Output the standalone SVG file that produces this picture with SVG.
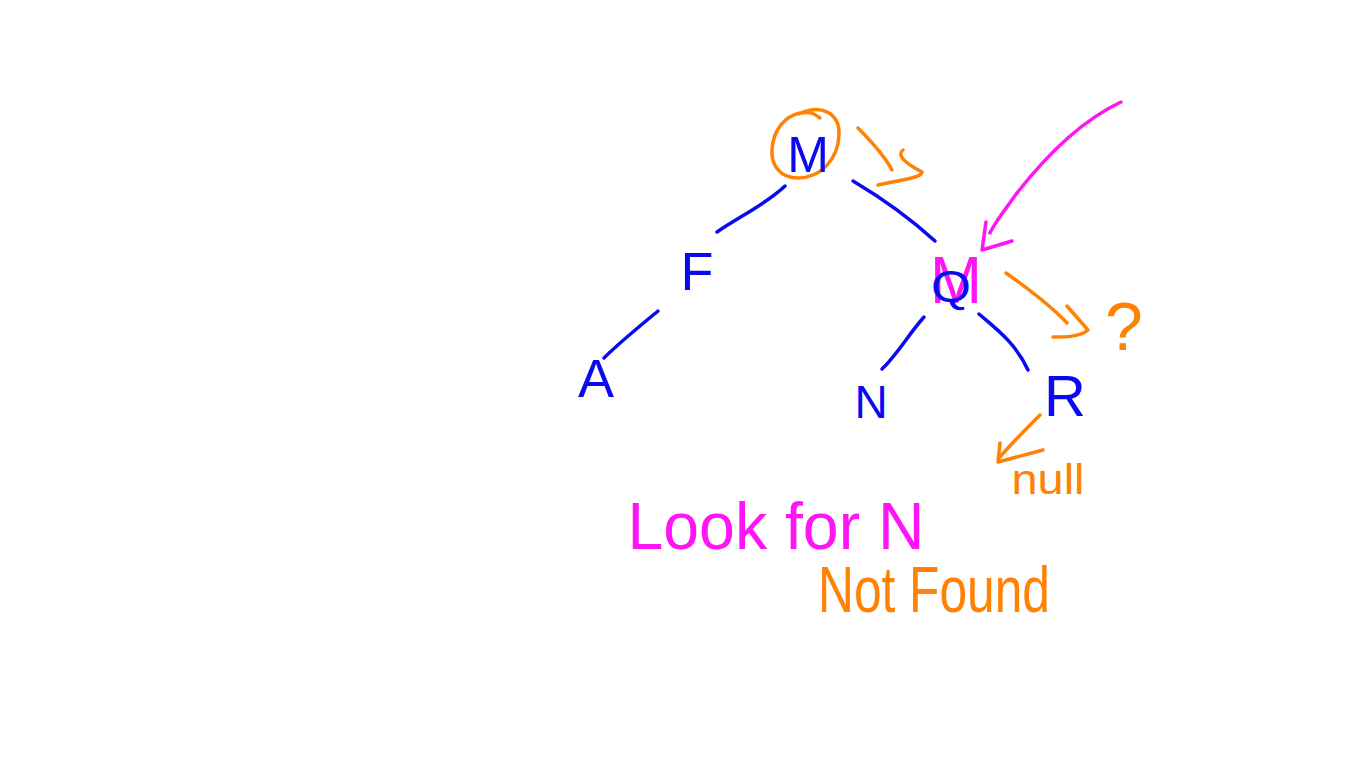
<svg xmlns="http://www.w3.org/2000/svg" width="1366" height="768" viewBox="0 0 1366 768">
<style>
.s{fill:none;stroke-width:3.5;stroke-linecap:round;stroke-linejoin:round}
.b{stroke:#0a0af0}.o{stroke:#ff8205}.m{stroke:#ff14f5}
.t{font-family:"Liberation Sans",Arial,sans-serif;text-anchor:middle}
.tb{fill:#0a0af0}.to{fill:#ff8205}.tm{fill:#ff14f5}
</style>
<rect width="1366" height="768" fill="#fff"/>
<g id="connectors">
<path class="s b" d="M717,232 C740,216 765,205 785,186"/>
<path class="s b" d="M853,181 C885,200 912,220 935,241"/>
<path class="s b" d="M658,311 C640,326 620,342 604,358"/>
<path class="s b" d="M924,317 C908,335 897,355 882,369"/>
<path class="s b" d="M979,314 C995,328 1015,342 1028,370"/>
</g>
<g id="node-M">
<path class="s o" d="M799,114 C820,104 840,112 839,135 C838,160 820,178 798,178 C780,178 771,165 772,150 C773,130 785,116 800,113 C808,112 812,112 820,118"/>
<text class="t tb" x="808" y="172" font-size="50">M</text>
</g>
<g id="node-F"><text class="t tb" x="697" y="290" font-size="54">F</text></g>
<g id="node-A"><text class="t tb" x="596" y="397" font-size="54">A</text></g>
<g id="node-Q">
<text class="t tm" x="956" y="303" font-size="66" textLength="52" lengthAdjust="spacingAndGlyphs">M</text>
<text class="t tb" x="951" y="302" font-size="44" textLength="40" lengthAdjust="spacingAndGlyphs">Q</text>
</g>
<g id="node-N"><text class="t tb" x="871" y="418" font-size="46">N</text></g>
<g id="node-R"><text class="t tb" x="1065" y="416" font-size="58">R</text></g>
<g id="annotations">
<path class="s o" d="M858,128 C872,142 884,155 892,170"/>
<path class="s o" d="M903,150 C897,155 903,162 922,172 C922,178 900,180 878,185"/>
<path class="s m" d="M1121,102 C1087,118 1053,147 1017,193 C1005,210 995,222 990,233"/>
<path class="s m" d="M986,222 L982,250 L1012,241"/>
<path class="s o" d="M1006,273 C1030,290 1050,305 1067,323"/>
<path class="s o" d="M1067,306 L1088,330 C1080,337 1065,337 1053,337"/>
<path class="s o" d="M1040,415 C1025,430 1010,445 1000,457"/>
<path class="s o" d="M1000,443 L998,462 L1043,450"/>
<text class="t to" x="1124" y="350" font-size="68">?</text>
<text class="t to" x="1048" y="494" font-size="42" textLength="73" lengthAdjust="spacingAndGlyphs">null</text>
<text class="t tm" x="776" y="549" font-size="66" textLength="297" lengthAdjust="spacingAndGlyphs">Look for N</text>
<text class="t to" x="934" y="612" font-size="64" textLength="232" lengthAdjust="spacingAndGlyphs">Not Found</text>
</g>
</svg>
